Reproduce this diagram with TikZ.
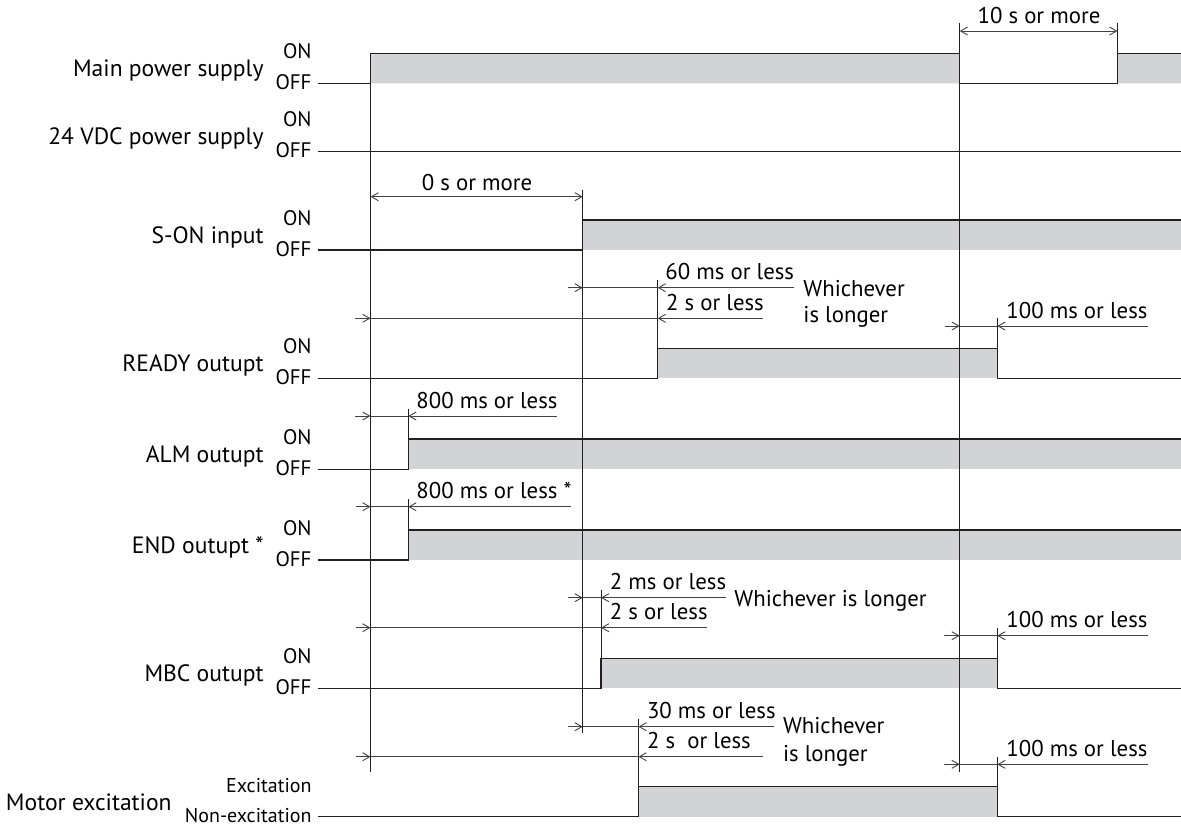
\documentclass[tikz,border=0pt]{standalone}
\usepackage{fontspec}
\setmainfont{PT Sans}
\usetikzlibrary{arrows.meta}
\definecolor{ink}{HTML}{231F20}
\definecolor{onfill}{HTML}{D1D3D4}
\begin{document}
\begin{tikzpicture}[x=0.5pt, y=-0.5pt,
    sig/.style={ink, line width=0.7pt},
    refl/.style={ink, line width=0.5pt},
    dim/.style={ink!85, line width=0.45pt},
    tip/.tip={Straight Barb[length=3.5pt, width=4pt, line width=0.45pt]},
    lab/.style={font=\fontsize{11.8}{14}\selectfont, anchor=base east, inner sep=0pt},
    lvl/.style={font=\fontsize{10.5}{12}\selectfont, anchor=base east, inner sep=0pt},
    tm/.style={font=\fontsize{11.4}{14}\selectfont, anchor=base west, inner sep=0pt}]
    \useasboundingbox (0,0) rectangle (1181,827);

    % signal names and levels
    \foreach \txt/\yo [count=\i] in {Main power supply/83.3, 24 VDC power supply/151.7,
        S-ON input/250, READY outupt/378.3, ALM outupt/469.3, END outupt */560, MBC outupt/688.3} {
        \node[lab] (name\i) at (264,\yo-7) {\txt};
        \node[lvl] (on\i) at (312,\yo-25) {ON};
        \node[lvl] (off\i) at (312,\yo+6) {OFF};
    }
    \node[lab] (name8) at (172,810) {Motor excitation};
    \node[lvl, font=\fontsize{10}{12}\selectfont] (on8) at (312,792.3) {Excitation};
    \node[lvl, font=\fontsize{10}{12}\selectfont] (off8) at (312,822.7) {Non-excitation};

    % ON areas
    \fill[onfill] (370.5,53.3) rectangle (959.7,83.3) (1117.4,53.3) rectangle (1181,83.3);
    \fill[onfill] (582.7,220) rectangle (1181,250);
    \fill[onfill] (657.7,348.3) rectangle (997.3,378.3);
    \fill[onfill] (408.3,439) rectangle (1181,469.3);
    \fill[onfill] (408.3,530) rectangle (1181,560);
    \fill[onfill] (601,658.3) rectangle (997.3,688.3);
    \fill[onfill] (638.5,786.7) rectangle (997.3,816.7);

    % reference lines
    \draw[refl] (370.5,53.3) -- (370.5,771.7);
    \draw[refl] (959.7,23) -- (959.7,771.7);
    \draw[refl] (582.7,190) -- (582.7,733.3);
    \foreach \x/\ya/\yb in {1117.4/23/53.3, 657.7/280/348.3, 997.3/318/348.3, 408.3/409/439,
        408.3/499/530, 601/590/658.3, 997.3/628.3/658.3, 638.5/719/786.7, 997.3/756.7/786.7}
        \draw[refl] (\x,\ya) -- (\x,\yb);

    % waveforms
    \draw[sig] (318,83.3) -| (370.5,53.3) -| (959.7,83.3) -| (1117.4,53.3) -- (1181,53.3);
    \draw[sig] (318,151.7) -- (1181,151.7);
    \draw[sig] (318,250) -| (582.7,220) -- (1181,220);
    \draw[sig] (318,378.3) -| (657.7,348.3) -| (997.3,378.3) -- (1181,378.3);
    \draw[sig] (318,469.3) -| (408.3,439) -- (1181,439);
    \draw[sig] (318,560) -| (408.3,530) -- (1181,530);
    \draw[sig] (318,688.3) -| (601,658.3) -| (997.3,688.3) -- (1181,688.3);
    \draw[sig] (318,816.7) -| (638.5,786.7) -| (997.3,816.7) -- (1181,816.7);

    % times between
    \draw[dim, {tip}-{tip}] (959.7,31) -- (1117.4,31);
    \draw[dim, {tip}-{tip}] (370.5,196.7) -- (582.7,196.7);
    \node[tm, anchor=base] (t0) at (1039,23) {10 s or more};
    \node[tm, anchor=base] (t1) at (477,190) {0 s or more};

    \foreach \y/\a/\b/\c/\d in {287.7/568/582.7/657.7/794, 318.3/355/370.5/657.7/763,
        326/945/959.7/997.3/1147.7, 416/355/370.5/408.3/556.7, 506.7/356/370.5/408.3/571,
        597.7/568/582.7/601/726, 627.7/356/370.5/601/707, 635.7/944/959.7/997.3/1147.6,
        726.7/568/582.7/638.5/774, 756.7/356/370.5/638.5/763, 764.3/944/959.7/997.3/1147.6} {
        \draw[dim, -{tip}] (\a,\y) -- (\b,\y);
        \draw[dim] (\b,\y) -- (\c,\y);
        \draw[dim, {tip}-] (\c,\y) -- (\d,\y);
    }

    \foreach \x/\y/\txt [count=\i from 2] in {665/279.7/60 ms or less, 665.7/310.3/2 s or less,
        803/296/Whichever, 803/322.7/is longer, 1006/318/100 ms or less,
        416/408/800 ms or less, 416/498.7/800 ms or less *,
        609.5/589.7/2 ms or less, 734/606/Whichever is longer, 609.5/619.7/2 s or less,
        1006/627.7/100 ms or less, 646.6/718.7/30 ms or less, 646.6/748.7/2 s~ or less,
        782.6/733.3/Whichever, 782.6/761.7/is longer, 1006/756.3/100 ms or less}
        \node[tm] (t\i) at (\x,\y) {\txt};
\end{tikzpicture}
\end{document}
